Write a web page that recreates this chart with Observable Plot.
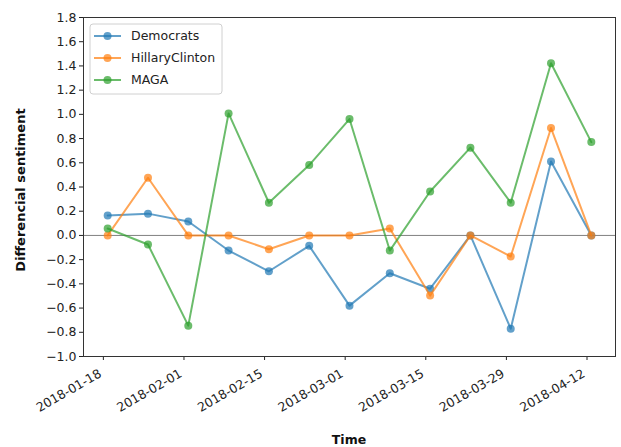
<!DOCTYPE html>
<html>
<head>
<meta charset="utf-8">
<script src="https://cdn.jsdelivr.net/npm/d3@7"></script>
<script src="https://cdn.jsdelivr.net/npm/@observablehq/plot@0.6"></script>
<style>
  body { margin: 0; background: #fff; }
  #chart svg { display: block; }
</style>
</head>
<body>
<div id="chart"></div>
<script>
// Weekly sampling times (UTC)
const weeks = [
  "2018-01-18T18:00Z", "2018-01-25T18:00Z", "2018-02-01T18:00Z", "2018-02-08T18:00Z",
  "2018-02-15T18:00Z", "2018-02-22T18:00Z", "2018-03-01T18:00Z", "2018-03-08T18:00Z",
  "2018-03-15T18:00Z", "2018-03-22T18:00Z", "2018-03-29T18:00Z", "2018-04-05T18:00Z",
  "2018-04-12T18:00Z"
];

const seriesNames = ["Democrats", "HillaryClinton", "MAGA"];
const seriesColors = ["#1f77b4", "#ff7f0e", "#2ca02c"];

const democrats      = [0.165, 0.18, 0.115, -0.125, -0.296, -0.086, -0.58, -0.312, -0.44, 0.0, -0.77, 0.61, 0.0];
const hillaryClinton = [0.0, 0.476, 0.0, 0.0, -0.114, 0.0, 0.0, 0.057, -0.497, 0.0, -0.174, 0.887, 0.0];
const maga           = [0.057, -0.075, -0.745, 1.008, 0.27, 0.581, 0.961, -0.125, 0.363, 0.725, 0.27, 1.422, 0.771];

const yTicks = [-1.0, -0.8, -0.6, -0.4, -0.2, 0.0, 0.2, 0.4, 0.6, 0.8, 1.0, 1.2, 1.4, 1.6, 1.8];
const xTickLabels = ["2018-01-18", "2018-02-01", "2018-02-15", "2018-03-01", "2018-03-15", "2018-03-29", "2018-04-12"];

const xLabel = "Time";
const yLabel = "Differencial sentiment";

// Long-format table built from the arrays above
const seriesValues = [democrats, hillaryClinton, maga];
const rows = seriesNames.flatMap((name, i) =>
  weeks.map((w, j) => ({series: name, date: new Date(w), value: seriesValues[i][j]}))
);

const parseDay = d3.utcParse("%Y-%m-%d");
const xTicks = xTickLabels.map(parseDay);

// 5% padding on each side of the time extent
const t0 = new Date(weeks[0]), t1 = new Date(weeks[weeks.length - 1]);
const pad = (t1 - t0) * 0.05;
const xDomain = [new Date(+t0 - pad), new Date(+t1 + pad)];

const seriesMarks = seriesNames.flatMap(name => {
  const data = rows.filter(r => r.series === name);
  return [
    Plot.line(data, {x: "date", y: "value", stroke: "series", strokeWidth: 2, strokeOpacity: 0.7}),
    Plot.dot(data, {x: "date", y: "value", fill: "series", r: 4, fillOpacity: 0.7, stroke: "none"})
  ];
});

const chart = Plot.plot({
  width: 621,
  height: 447,
  marginLeft: 83,
  marginRight: 6,
  marginTop: 17,
  marginBottom: 91,
  style: {fontFamily: "DejaVu Sans, sans-serif", fontSize: "12.5px", color: "#222", background: "#fff"},
  x: {type: "utc", domain: xDomain},
  y: {domain: [-1, 1.8]},
  color: {domain: seriesNames, range: seriesColors},
  marks: [
    Plot.axisY({ticks: yTicks, tickFormat: d3.format(".1f"), tickSize: 4, tickPadding: 3, label: null}),
    // tick marks
    Plot.axisX({ticks: xTicks, tickFormat: () => "", tickSize: 4, label: null}),
    // rotated date labels
    Plot.axisX({ticks: xTicks, tickFormat: d3.utcFormat("%Y-%m-%d"), tickSize: 0, tickPadding: 16, dx: -3, tickRotate: -30, label: null}),
    Plot.ruleY([0], {stroke: "#808080", strokeWidth: 1}),
    ...seriesMarks,
    Plot.frame({stroke: "#333", strokeWidth: 1})
  ]
});

document.getElementById("chart").appendChild(chart);

// Axis titles and legend
const svg = d3.select(chart);
const font = "DejaVu Sans, sans-serif";

svg.append("text")
  .attr("x", (83 + 615) / 2).attr("y", 444)
  .attr("text-anchor", "middle")
  .attr("font-family", font).attr("font-size", 12.5).attr("font-weight", "bold")
  .attr("fill", "#111")
  .text(xLabel);

svg.append("text")
  .attr("transform", "translate(25,190) rotate(-90)")
  .attr("text-anchor", "middle")
  .attr("font-family", font).attr("font-size", 13).attr("font-weight", "bold")
  .attr("fill", "#111")
  .text(yLabel);

const legend = svg.append("g").attr("transform", "translate(90,24)");
legend.append("rect")
  .attr("width", 132).attr("height", 70).attr("rx", 3)
  .attr("fill", "#fff").attr("fill-opacity", 0.8)
  .attr("stroke", "#d0d0d0").attr("stroke-width", 1);

seriesNames.forEach((name, i) => {
  const g = legend.append("g").attr("transform", `translate(0,${12 + i * 22})`);
  g.append("line")
    .attr("x1", 4).attr("x2", 31).attr("y1", 0).attr("y2", 0)
    .attr("stroke", seriesColors[i]).attr("stroke-width", 2).attr("stroke-opacity", 0.7);
  g.append("circle")
    .attr("cx", 17.5).attr("cy", 0).attr("r", 4)
    .attr("fill", seriesColors[i]).attr("fill-opacity", 0.7);
  g.append("text")
    .attr("x", 41).attr("y", 0).attr("dy", "0.35em")
    .attr("text-anchor", "start")
    .attr("font-family", font).attr("font-size", 12.5)
    .attr("fill", "#222")
    .text(name);
});
</script>
</body>
</html>
